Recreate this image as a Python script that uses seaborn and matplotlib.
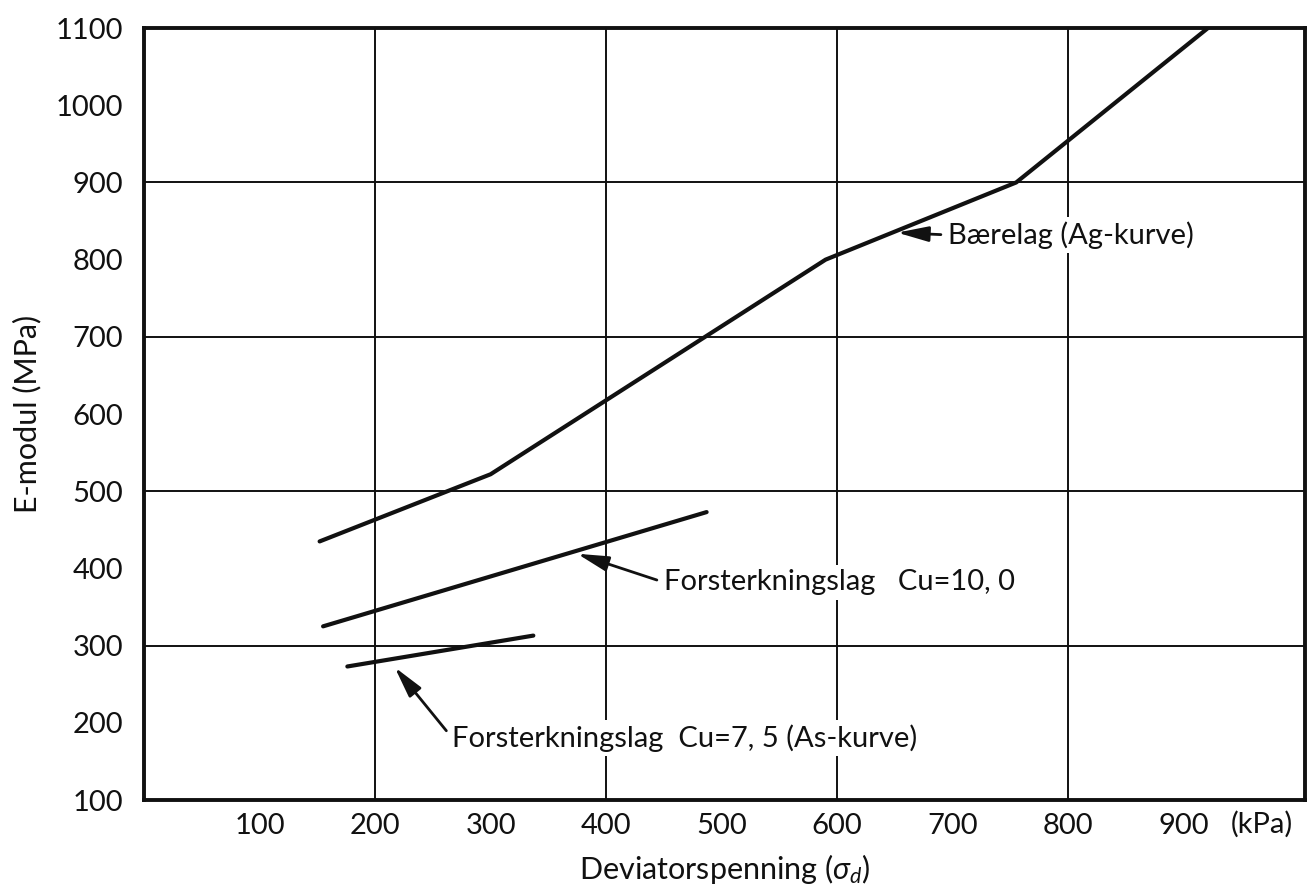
import matplotlib
matplotlib.use("Agg")
import matplotlib.pyplot as plt
import seaborn as sns
import pandas as pd

# E-modulus versus deviator stress for three layer materials
baerelag_x = [152, 300, 590, 755, 921]
baerelag_y = [435, 522, 800, 900, 1100]

cu10_x = [155, 487]
cu10_y = [325, 473]

cu75_x = [176, 337]
cu75_y = [273, 313]

series_names = ["Bærelag (Ag-kurve)",
                "Forsterkningslag   Cu=10, 0",
                "Forsterkningslag  Cu=7, 5 (As-kurve)"]

x_ticks = [100, 200, 300, 400, 500, 600, 700, 800, 900]
y_ticks = [100, 200, 300, 400, 500, 600, 700, 800, 900, 1000, 1100]
x_grid = [200, 400, 600, 800]
y_grid = [300, 500, 700, 900]

df = pd.concat([
    pd.DataFrame({"sigma": baerelag_x, "E": baerelag_y, "serie": series_names[0]}),
    pd.DataFrame({"sigma": cu10_x, "E": cu10_y, "serie": series_names[1]}),
    pd.DataFrame({"sigma": cu75_x, "E": cu75_y, "serie": series_names[2]}),
], ignore_index=True)

sns.set_theme(style="white")
plt.rcParams["font.family"] = ["Lato", "DejaVu Sans"]
plt.rcParams["mathtext.fontset"] = "custom"
plt.rcParams["mathtext.rm"] = "Lato"
plt.rcParams["mathtext.it"] = "Lato:italic"

ink = "#111111"
fig = plt.figure(figsize=(13.13, 8.96), dpi=100)
ax = fig.add_axes([0.1097, 0.1071, 0.8842, 0.8616])

# grid: every second hundred in both directions
for gx in x_grid:
    ax.axvline(gx, color=ink, linewidth=1.4, zorder=1)
for gy in y_grid:
    ax.axhline(gy, color=ink, linewidth=1.4, zorder=1)

sns.lineplot(data=df, x="sigma", y="E", hue="serie", units="serie",
             estimator=None, sort=False, palette=[ink] * 3, linewidth=3.0,
             legend=False, ax=ax, zorder=4)

ax.set_xlim(0, 1005)
ax.set_ylim(100, 1100)
ax.set_xticks(x_ticks)
ax.set_yticks(y_ticks)
ax.grid(False)
ax.tick_params(axis="x", direction="in", length=11, width=1.2,
               color=ink, labelsize=21, pad=9, labelcolor=ink)
ax.tick_params(axis="y", direction="in", length=14, width=1.5,
               color=ink, labelsize=21, pad=15, labelcolor=ink)
for side in ["left", "right", "top", "bottom"]:
    ax.spines[side].set_visible(True)
    ax.spines[side].set_color(ink)
    ax.spines[side].set_linewidth(2.8)
    ax.spines[side].set_zorder(5)

ax.set_xlabel(r"Deviatorspenning ($\sigma_d$)", fontsize=22, color=ink, labelpad=10)
ax.set_ylabel("E-modul (MPa)", fontsize=22, color=ink, labelpad=10)

ax.annotate("(kPa)", xy=(968, 0), xycoords=("data", "axes fraction"),
            xytext=(0, -8), textcoords="offset points", ha="center", va="top",
            fontsize=21, color=ink)

arrow = dict(arrowstyle="-|>,head_length=0.9,head_width=0.22", color=ink,
             lw=2, shrinkA=2, shrinkB=0, relpos=(0, 0.5))
box = dict(boxstyle="square,pad=0.15", facecolor="white", edgecolor="none")
ax.annotate(series_names[0], xy=(652, 835), xytext=(696, 832),
            ha="left", va="center", fontsize=21, color=ink, arrowprops=arrow,
            bbox=box, zorder=3)
ax.annotate(series_names[1], xy=(375, 419), xytext=(450, 382),
            ha="left", va="center", fontsize=21, color=ink, arrowprops=arrow,
            bbox=box, zorder=3)
ax.annotate(series_names[2], xy=(217, 272), xytext=(267, 180),
            ha="left", va="center", fontsize=21, color=ink, arrowprops=arrow,
            bbox=box, zorder=3)

fig.savefig("out.png", dpi=100, facecolor="white")
